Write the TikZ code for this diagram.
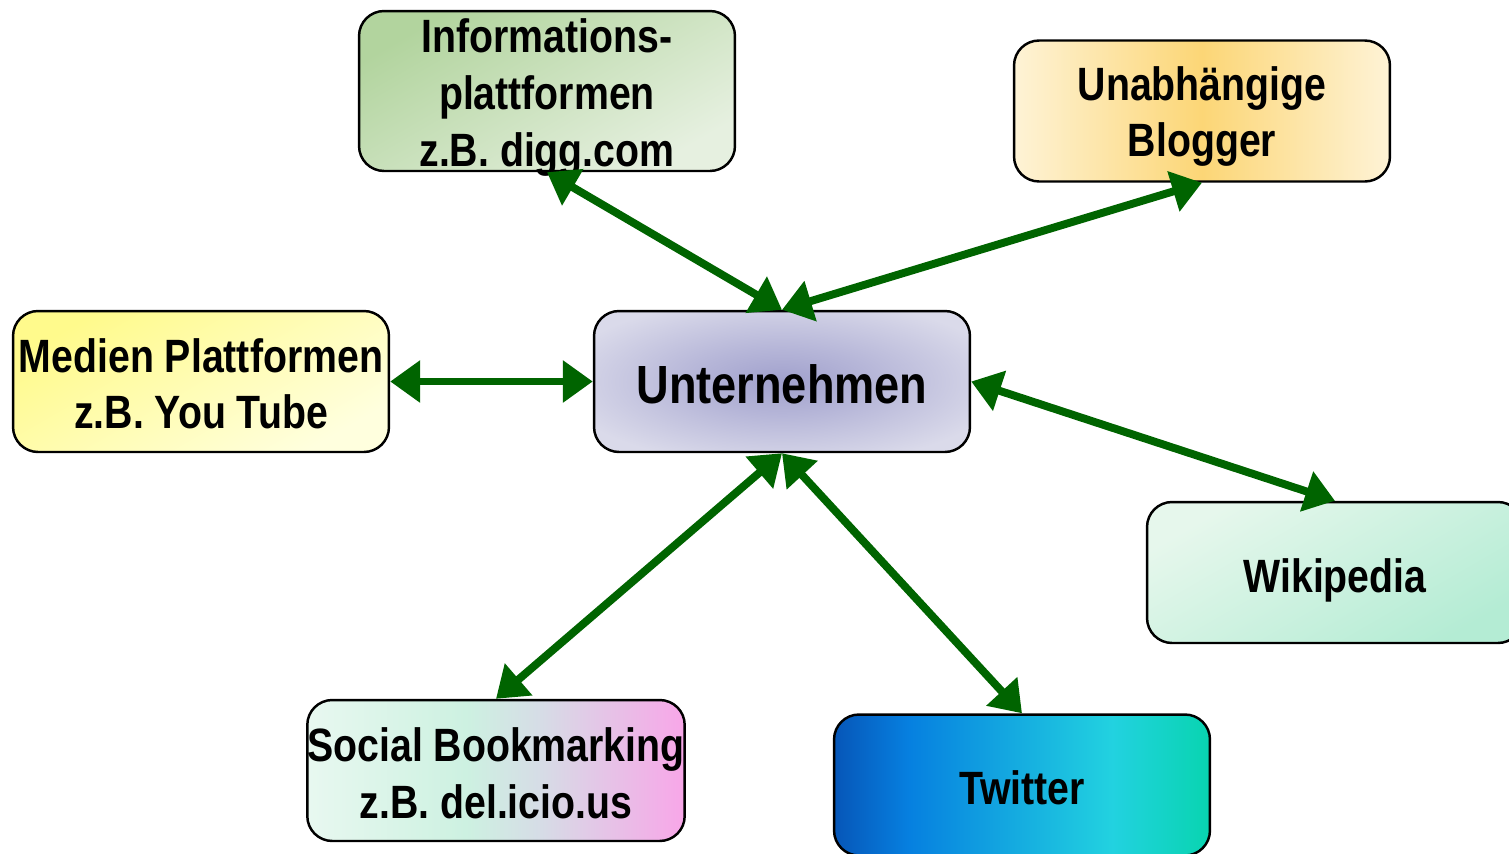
\documentclass[tikz,border=0pt]{standalone}
\usepackage{fontspec}
\setmainfont{Liberation Sans}[FakeStretch=0.84]
\usetikzlibrary{arrows.meta}
\definecolor{arrgreen}{HTML}{006400}
\definecolor{so1}{HTML}{E8F8F0}
\definecolor{so2}{HTML}{CDF1E1}
\definecolor{so3}{HTML}{D6DCE6}
\definecolor{so4}{HTML}{F8A6E8}
\pgfdeclarehorizontalshading{socshade}{100bp}{color(0bp)=(so1);color(25bp)=(so1);color(46bp)=(so2);color(56bp)=(so3);color(75bp)=(so4);color(100bp)=(so4)}
\definecolor{tw1}{HTML}{0656B8}
\definecolor{tw2}{HTML}{0680E0}
\definecolor{tw3}{HTML}{22D2E0}
\definecolor{tw4}{HTML}{08D4B0}
\pgfdeclarehorizontalshading{twshade}{100bp}{color(0bp)=(tw1);color(25bp)=(tw1);color(35bp)=(tw2);color(62bp)=(tw3);color(75bp)=(tw4);color(100bp)=(tw4)}
\definecolor{un1}{HTML}{A0A0CC}
\definecolor{un2}{HTML}{B6B6D8}
\definecolor{un3}{HTML}{DADAEA}
\pgfdeclareradialshading{untshade}{\pgfpointorigin}{color(0bp)=(un1);color(12bp)=(un2);color(30bp)=(un3);color(50bp)=(un3)}
\newcommand{\dn}[1]{\rule{0pt}{#1}}
\tikzset{
  box/.style={draw=black, line width=1.4pt, rounded corners=0.5cm, minimum width=7.52cm, minimum height=2.82cm, align=center, inner xsep=0pt, inner ysep=-20pt, font=\fontsize{26.6}{32.3}\selectfont\bfseries},
  arr/.style={draw=arrgreen, line width=4.5pt, {Triangle[length=17pt,width=23pt]}-{Triangle[length=17pt,width=23pt]}}
}
\begin{document}
\begin{tikzpicture}[x=0.02cm,y=-0.02cm]
\useasboundingbox (0,0) rectangle (1509,853);
\clip (0,0) rectangle (1509,853);
\node[box, minimum height=3.2cm, top color={rgb,255:red,178;green,212;blue,158}, bottom color={rgb,255:red,230;green,240;blue,224}, shading angle=30] (info) at (547,91) {\dn{26.5pt}Informations-\\plattformen\\z.B. digg.com};
\node[box, left color={rgb,255:red,254;green,243;blue,214}, right color={rgb,255:red,254;green,243;blue,214}, middle color={rgb,255:red,252;green,214;blue,118}] (blog) at (1202,111) {\dn{25.5pt}Unabhängige\\Blogger};
\node[box, shading=untshade, font=\fontsize{30.6}{36}\selectfont\bfseries] (unt) at (782,381.5) {\dn{25pt}Unternehmen};
\node[box, top color={rgb,255:red,255;green,250;blue,140}, bottom color={rgb,255:red,255;green,255;blue,222}, shading angle=30] (med) at (201,381.5) {\dn{22pt}Medien Plattformen\\z.B. You Tube};
\node[box, shading=socshade] (soc) at (496,770.5) {\dn{22.5pt}Social Bookmarking\\z.B. del.icio.us};
\node[box, shading=twshade] (twit) at (1022,785) {\dn{22pt}Twitter};
\node[box, top color={rgb,255:red,230;green,247;blue,236}, bottom color={rgb,255:red,180;green,236;blue,212}, shading angle=30] (wiki) at (1335,572.5) {\dn{28.5pt}Wikipedia};
\draw[arr] (info.south) -- (unt.north);
\draw[arr] (blog.south) -- (unt.north);
\draw[arr] (med.east) -- (unt.west);
\draw[arr] (unt.east) -- (wiki.north);
\draw[arr] (unt.south) -- (soc.north);
\draw[arr] (unt.south) -- (twit.north);
\end{tikzpicture}
\end{document}
